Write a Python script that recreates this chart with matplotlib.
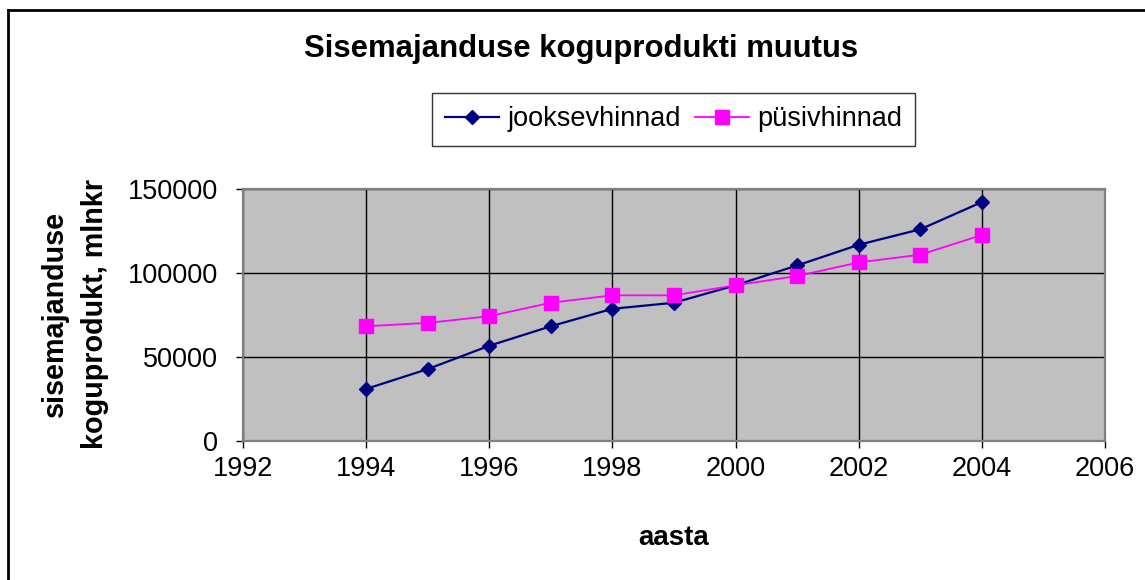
import matplotlib
matplotlib.use("Agg")
import matplotlib.pyplot as plt
from matplotlib.lines import Line2D

plt.rcParams['font.family'] = ['Liberation Sans', 'DejaVu Sans']

years = [1994, 1995, 1996, 1997, 1998, 1999, 2000, 2001, 2002, 2003, 2004]
jooksevhinnad = [31000, 42800, 56700, 68300, 78700, 82300, 92700, 104500, 116800, 126000, 142200]
pusivhinnad = [68300, 70300, 74300, 82300, 86700, 86700, 92700, 98200, 106300, 110900, 122600]
x_ticks = [1992, 1994, 1996, 1998, 2000, 2002, 2004, 2006]
y_ticks = [0, 50000, 100000, 150000]

W, H = 1145, 580
fig = plt.figure(figsize=(W / 100, H / 100), dpi=100)
fig.patch.set_facecolor('white')

ax = fig.add_axes([243 / W, 1 - 441 / H, (1105 - 243) / W, (441 - 189) / H])
ax.set_facecolor('#C0C0C0')

l1, = ax.plot(years, jooksevhinnad, color='#000080', lw=1.6, marker='D', ms=7.5,
              markerfacecolor='#000080', markeredgecolor='#000080', label='jooksevhinnad', zorder=3)
l2, = ax.plot(years, pusivhinnad, color='#FF00FF', lw=1.3, marker='s', ms=9.5,
              markerfacecolor='#FF00FF', markeredgecolor='#FF00FF', label='püsivhinnad', zorder=4)

ax.set_xlim(1992, 2006)
ax.set_ylim(0, 150000)
ax.set_xticks(x_ticks)
ax.set_yticks(y_ticks)
ax.set_xticklabels([str(v) for v in x_ticks])
ax.set_yticklabels([str(v) for v in y_ticks])
ax.grid(True, color='black', lw=1.0, zorder=1)
ax.set_axisbelow(True)
for s in ax.spines.values():
    s.set_color('#808080')
    s.set_linewidth(1.6)
ax.tick_params(axis='both', direction='out', length=5, width=1, color='black',
               labelsize=19.5)
ax.tick_params(axis='y', pad=13)
ax.tick_params(axis='x', pad=6)

fig.text(581 / W, 1 - 49 / H, 'Sisemajanduse koguprodukti muutus', ha='center', va='center',
         fontsize=22.4, fontweight='bold')
fig.text(674 / W, 1 - 538 / H, 'aasta', ha='center', va='center', fontsize=20, fontweight='bold')
fig.text(75 / W, 1 - 314 / H, 'sisemajanduse\nkoguprodukt, mlnkr', ha='center', va='center',
         rotation=90, fontsize=20.7, fontweight='bold', linespacing=1.55)

leg = fig.legend(handles=[l1, l2], loc='center', bbox_to_anchor=(673.5 / W, 1 - 119.5 / H),
                 ncol=2, fontsize=19.5, frameon=True, fancybox=False, edgecolor='black',
                 handlelength=2.0, handletextpad=0.3, columnspacing=0.5, borderpad=0.5)
leg.get_frame().set_linewidth(1.0)

fig.add_artist(Line2D([7.5 / W, 7.5 / W], [0, 1 - 9.5 / H], color='black', lw=2, transform=fig.transFigure))
fig.add_artist(Line2D([7.5 / W, 1], [1 - 9.5 / H, 1 - 9.5 / H], color='black', lw=2, transform=fig.transFigure))

fig.savefig('out.png', dpi=100)
